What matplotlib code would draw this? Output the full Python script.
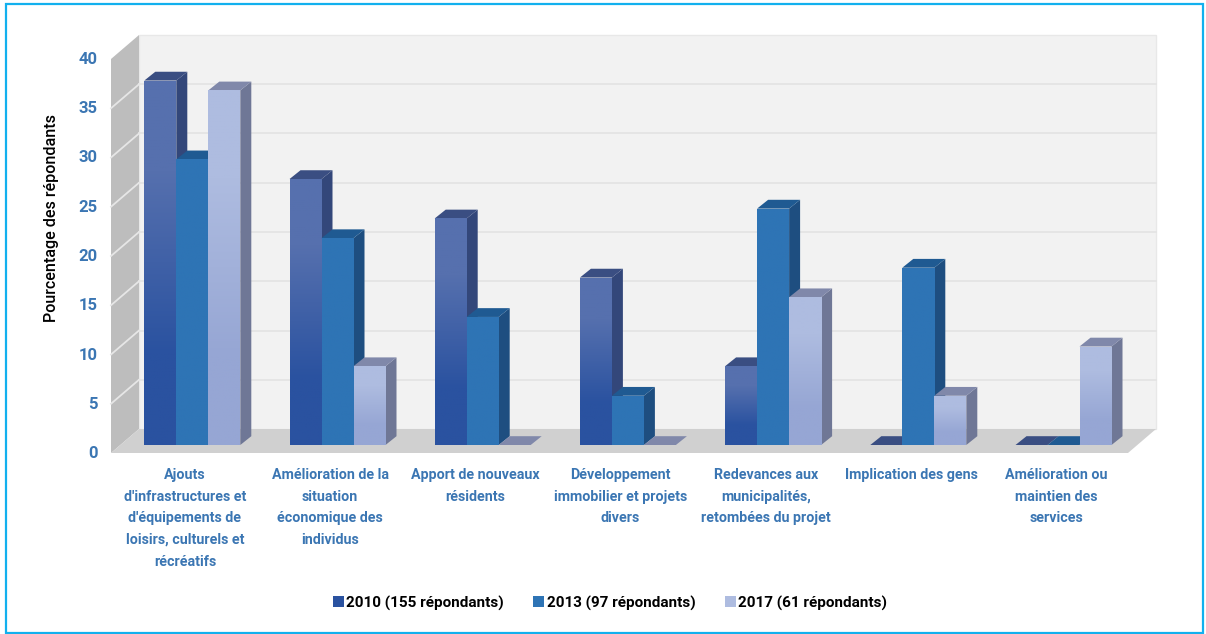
#!/usr/bin/env python3
"""Pseudo-3D grouped bars: percentage of respondents per benefit, 2010/2013/2017."""
import matplotlib

matplotlib.use("Agg")
import matplotlib.pyplot as plt
import numpy as np
from matplotlib.colors import to_rgb
from matplotlib.patches import Patch, Polygon, Rectangle
from matplotlib.transforms import ScaledTranslation

categories = [
    "Ajouts\nd'infrastructures et\nd'équipements de\nloisirs, culturels et\nrécréatifs",
    "Amélioration de la\nsituation\néconomique des\nindividus",
    "Apport de nouveaux\nrésidents",
    "Développement\nimmobilier et projets\ndivers",
    "Redevances aux\nmunicipalités,\nretombées du projet",
    "Implication des gens",
    "Amélioration ou\nmaintien des\nservices",
]
series_names = ["2010 (155 répondants)", "2013 (97 répondants)", "2017 (61 répondants)"]
v2010 = [37, 27, 23, 17, 8, 0, 0]
v2013 = [29, 21, 13, 5, 24, 18, 0]
v2017 = [36, 8, 0, 0, 15, 5, 10]
yticks = [0, 5, 10, 15, 20, 25, 30, 35, 40]

BLUE_TXT = "#3B76B3"
# front top, front bottom, side, top face
STYLES = [
    ("#5670AE", "#2A52A0", "#33477A", "#3A4E82"),
    ("#2E74B5", "#2E74B5", "#1E4E80", "#1F5A92"),
    ("#AEBCE0", "#96A6D4", "#6F7796", "#8088AA"),
]

W, H = 1206, 634
LEFT, RIGHT, BOTTOM, TOP = 111, 1128, 453, 59   # front plane of the 3D box, px
X0, DX = 185, 145.2                             # first group centre, group spacing, px
PX_Y = (BOTTOM - TOP) / 40
BOX_DX, BOX_DY = 28 / DX, 24 / PX_Y             # depth of the whole box, data units
BAR_DX, BAR_DY = 11 / DX, 8.8 / PX_Y            # depth of one bar
FRONT_DY = 8 / PX_Y                             # bars stand this far behind the front plane
BAR_W = 32 / DX
BAR_START = -40.7 / DX                          # left edge of a group's first bar

plt.rcParams["font.family"] = ["Roboto", "Liberation Sans"]

fig = plt.figure(figsize=(W / 100, H / 100), dpi=100)
ax = fig.add_axes([LEFT / W, 1 - BOTTOM / H, (RIGHT - LEFT) / W, (BOTTOM - TOP) / H])
xlim = ((LEFT - X0) / DX, (RIGHT - X0) / DX)
ax.patch.set_visible(False)
for s in ax.spines.values():
    s.set_visible(False)

# box: back wall, left wall, floor
xl, xr = xlim
ax.add_patch(Polygon([(xl + BOX_DX, BOX_DY), (xr + BOX_DX, BOX_DY), (xr + BOX_DX, 40 + BOX_DY), (xl + BOX_DX, 40 + BOX_DY)],
                     fc="#F2F2F2", ec="#E8E8E8", lw=1, zorder=1, clip_on=False))
ax.add_patch(Polygon([(xl, 0), (xl + BOX_DX, BOX_DY), (xl + BOX_DX, 40 + BOX_DY), (xl, 40)],
                     fc="#BDBDBD", ec="none", zorder=1, clip_on=False))
ax.add_patch(Polygon([(xl, 0), (xr, 0), (xr + BOX_DX, BOX_DY), (xl + BOX_DX, BOX_DY)],
                     fc="#D0D0D0", ec="none", zorder=2, clip_on=False))
for t in yticks[1:-1]:
    ax.plot([xl + BOX_DX, xr + BOX_DX], [t + BOX_DY] * 2, color="#E4E4E4", lw=1.3, zorder=1.5, clip_on=False)
    ax.plot([xl, xl + BOX_DX], [t, t + BOX_DY], color="#E6E6E6", lw=1.3, zorder=1.5, clip_on=False)

# bars: left to right so that each one covers the side of the previous one
z = 3.0
for g in range(len(categories)):
    for s, vals in enumerate([v2010, v2013, v2017]):
        v = vals[g]
        front, bottom, side, top = STYLES[s]
        x0 = g + BAR_START + s * BAR_W
        x1 = x0 + BAR_W
        y0 = FRONT_DY
        ax.add_patch(Polygon([(x1, y0), (x1 + BAR_DX, y0 + BAR_DY), (x1 + BAR_DX, y0 + v + BAR_DY), (x1, y0 + v)],
                             fc=side, ec="none", zorder=z, clip_on=False))
        ax.add_patch(Polygon([(x0, y0 + v), (x1, y0 + v), (x1 + BAR_DX, y0 + v + BAR_DY), (x0 + BAR_DX, y0 + v + BAR_DY)],
                             fc=top, ec="none", zorder=z, clip_on=False))
        if v > 0:
            bar = ax.bar(x0, v, BAR_W, bottom=y0, align="edge", color=front, zorder=z + 0.1, clip_on=False)[0]
            grad = np.array([[to_rgb(front)], [to_rgb(bottom)]])
            im = ax.imshow(grad, extent=[x0, x1, y0, y0 + v], aspect="auto", interpolation="bilinear", zorder=z + 0.2)
            im.set_clip_path(bar)
        z += 1

ax.set_xlim(*xlim)
ax.set_ylim(0, 40)
ax.set_yticks(yticks)
ax.set_xticks(range(len(categories)))
ax.set_xticklabels(categories, linespacing=1.69, fontsize=10.3, fontweight="bold", color=BLUE_TXT)
ax.tick_params(axis="x", length=0, pad=11)
ax.tick_params(axis="y", length=0, pad=9.4, labelsize=12, labelcolor=BLUE_TXT)
up = ScaledTranslation(0, 0.01, fig.dpi_scale_trans)
for lab in ax.get_yticklabels():
    lab.set_fontweight("bold")
    lab.set_transform(lab.get_transform() + up)

fig.text(52 / W, 1 - 218 / H, "Pourcentage des répondants", rotation=90, ha="center", va="center",
         fontsize=11.6, fontweight="medium", color="black")

handles = [Patch(facecolor=st[1] if i < 2 else st[0], edgecolor="none") for i, st in enumerate(STYLES)]
leg = fig.legend(handles, series_names, loc="center", bbox_to_anchor=(610 / W, 1 - 603 / H), ncol=3, frameon=False,
                 prop={"size": 11, "weight": "bold"}, handlelength=0.72, handleheight=0.72,
                 handletextpad=0.15, columnspacing=1.95)

fig.add_artist(Rectangle((6 / W, 1 - 632.5 / H), 1197 / W, 628.5 / H, transform=fig.transFigure,
                         fc="none", ec="#12B0EE", lw=1.6))

fig.savefig("out.png", dpi=100)
